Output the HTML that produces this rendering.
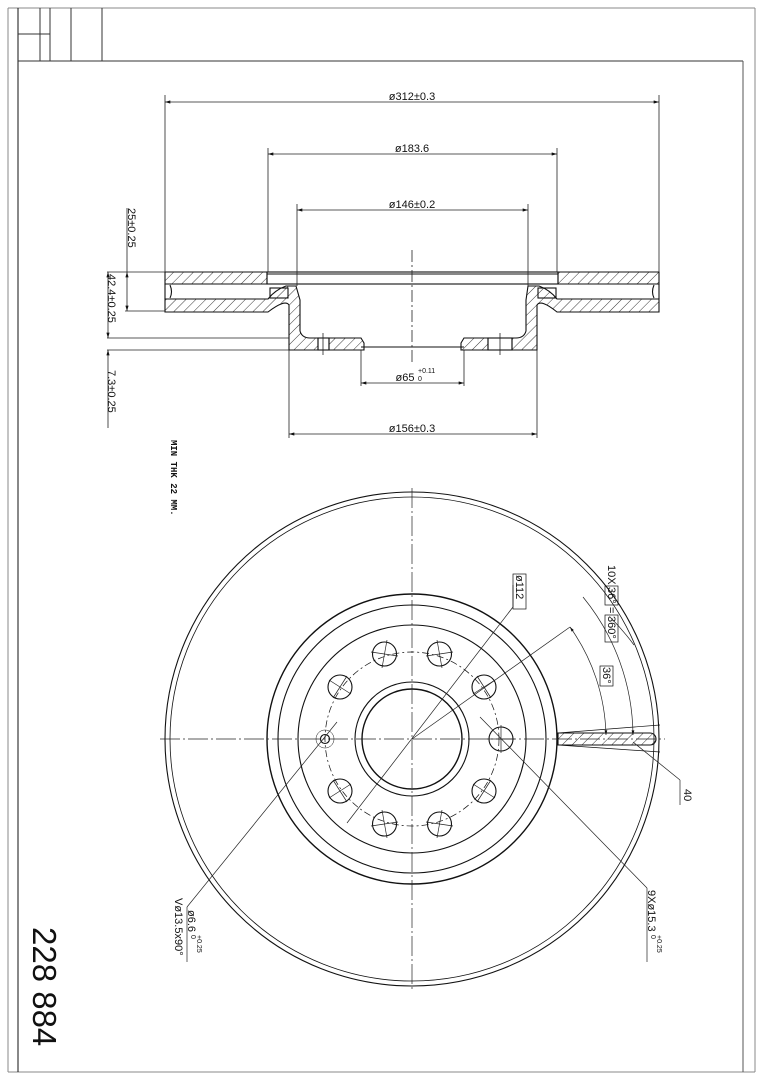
<!DOCTYPE html>
<html><head><meta charset="utf-8"><style>
html,body{margin:0;padding:0;background:#fff;}
svg{display:block;font-family:"Liberation Sans",sans-serif;}
</style></head><body>
<svg width="763" height="1080" viewBox="0 0 763 1080" xmlns="http://www.w3.org/2000/svg">
<defs>
<pattern id="h" patternUnits="userSpaceOnUse" width="7" height="7" patternTransform="rotate(45)">
<line x1="0" y1="0" x2="0" y2="7" stroke="#222" stroke-width="0.9"/>
</pattern>
<marker id="a" viewBox="0 0 10 6" refX="10" refY="3" markerWidth="8" markerHeight="4" orient="auto-start-reverse"><path d="M0,0 L10,3 L0,6z" fill="#111"/></marker>
</defs>
<g fill="none" stroke="#333" stroke-width="1">
<line x1="8" y1="8" x2="755" y2="8" stroke="#888"/>
<line x1="8" y1="8" x2="8" y2="1072" stroke="#888"/>
<line x1="755" y1="8" x2="755" y2="1072" stroke="#888"/>
<line x1="8" y1="1072" x2="755" y2="1072" stroke="#888"/>
<line x1="18" y1="8" x2="18" y2="1072" stroke="#111"/>
<line x1="18" y1="61" x2="743" y2="61"/>
<line x1="743" y1="61" x2="743" y2="1072" stroke="#555"/>
<line x1="40" y1="8" x2="40" y2="61"/>
<line x1="50" y1="8" x2="50" y2="61"/>
<line x1="71" y1="8" x2="71" y2="61"/>
<line x1="102" y1="8" x2="102" y2="61"/>
<line x1="18" y1="34" x2="50" y2="34"/>
</g>

<g stroke="#111" stroke-width="1.1">
<path d="M165,272 H267 V284 H165 Z" fill="url(#h)"/>
<path d="M558,272 H659 V284 H558 Z" fill="url(#h)"/>
<path d="M165,299 H268 Q275,290 286,286 L296,286 L300,300 V331 Q302,338 310,338 H318 V350 H289 V305 Q285,299 268,312 H165 Z" fill="url(#h)"/>
<path d="M659,299 H557 Q550,290 539,286 L528,286 L526,300 V331 Q524,338 516,338 H512 V350 H537 V305 Q541,299 557,312 H659 Z" fill="url(#h)"/>
<path d="M329,338 H361 L364,343 V350 H329 Z" fill="url(#h)"/>
<path d="M464,338 H488 V350 H461 V343 Z" fill="url(#h)"/>
<rect x="267" y="272" width="291" height="12" fill="none"/>
<line x1="267" y1="274" x2="558" y2="274"/>
<line x1="361" y1="347" x2="464" y2="347"/>
<line x1="165" y1="284" x2="165" y2="299"/>
<line x1="659" y1="284" x2="659" y2="299"/>
<path d="M170,285 Q173,292 170,298 M654,285 Q651,292 654,298" fill="none"/>
<rect x="270" y="288" width="18" height="10" fill="none"/>
<rect x="538" y="288" width="18" height="10" fill="none"/>
<rect x="318" y="338" width="11" height="12" fill="none"/>
<rect x="488" y="338" width="24" height="12" fill="none"/>
</g>
<g stroke="#222" stroke-width="0.8" fill="none">
<line x1="412" y1="250" x2="412" y2="365" stroke-dasharray="12,3,2,3"/>
<line x1="323" y1="333" x2="323" y2="355"/>
<line x1="500" y1="333" x2="500" y2="355"/>
<line x1="165" y1="95" x2="165" y2="272"/>
<line x1="659" y1="95" x2="659" y2="272"/>
<line x1="268" y1="148" x2="268" y2="272"/>
<line x1="557" y1="148" x2="557" y2="272"/>
<line x1="297" y1="204" x2="297" y2="286"/>
<line x1="528" y1="204" x2="528" y2="286"/>
<line x1="361" y1="350" x2="361" y2="386"/>
<line x1="464" y1="350" x2="464" y2="386"/>
<line x1="289" y1="350" x2="289" y2="438"/>
<line x1="537" y1="350" x2="537" y2="438"/>
<line x1="107" y1="272" x2="165" y2="272"/>
<line x1="125" y1="311" x2="165" y2="311"/>
<line x1="107" y1="338" x2="289" y2="338"/>
<line x1="107" y1="350" x2="289" y2="350"/>
<line x1="165" y1="102" x2="659" y2="102" marker-start="url(#a)" marker-end="url(#a)"/>
<line x1="268" y1="154" x2="557" y2="154" marker-start="url(#a)" marker-end="url(#a)"/>
<line x1="297" y1="210" x2="528" y2="210" marker-start="url(#a)" marker-end="url(#a)"/>
<line x1="361" y1="383" x2="464" y2="383" marker-start="url(#a)" marker-end="url(#a)"/>
<line x1="289" y1="434" x2="537" y2="434" marker-start="url(#a)" marker-end="url(#a)"/>
<line x1="127" y1="208" x2="127" y2="272"/>
<line x1="127" y1="272" x2="127" y2="311" marker-start="url(#a)" marker-end="url(#a)"/>
<line x1="108" y1="272" x2="108" y2="338" marker-start="url(#a)" marker-end="url(#a)"/>
<line x1="108" y1="350" x2="108" y2="428" marker-start="url(#a)"/>
</g>
<g font-size="11" fill="#111">
<text x="412" y="100" text-anchor="middle">ø312±0.3</text>
<text x="412" y="152" text-anchor="middle">ø183.6</text>
<text x="412" y="208" text-anchor="middle">ø146±0.2</text>
<text x="405" y="381" text-anchor="middle">ø65</text>
<text x="418" y="373" font-size="7">+0.11</text>
<text x="418" y="381" font-size="7">0</text>
<text x="412" y="432" text-anchor="middle">ø156±0.3</text>
<text transform="translate(128,208) rotate(90)">25±0.25</text>
<text transform="translate(108,274) rotate(90)">42.4±0.25</text>
<text transform="translate(108,370) rotate(90)">7.3±0.25</text>
<text transform="translate(171,440) rotate(90)" font-size="9" font-family="Liberation Mono" font-weight="bold">MIN THK 22 MM.</text>
<text transform="translate(33,927) rotate(90)" font-size="33">228 884</text>
</g>

<g stroke="#111" stroke-width="1.1" fill="none">
<circle cx="412" cy="739" r="247"/>
<circle cx="412" cy="739" r="242" stroke-width="0.8"/>
<circle cx="412" cy="739" r="145" stroke-width="1.4"/>
<circle cx="412" cy="739" r="134"/>
<circle cx="412" cy="739" r="114"/>
<circle cx="412" cy="739" r="57"/>
<circle cx="412" cy="739" r="50" stroke-width="1.4"/>
<circle cx="412" cy="739" r="87" stroke-dasharray="7,3,2,3" stroke-width="0.7"/>
<circle cx="501" cy="739" r="12"/>
<circle cx="484" cy="687" r="12"/>
<circle cx="439.5" cy="654" r="12"/>
<circle cx="384.5" cy="654" r="12"/>
<circle cx="340" cy="687" r="12"/>
<circle cx="340" cy="791" r="12"/>
<circle cx="384.5" cy="824" r="12"/>
<circle cx="439.5" cy="824" r="12"/>
<circle cx="484" cy="791" r="12"/>
<circle cx="325" cy="739" r="4.5"/>
<circle cx="325" cy="739" r="9" stroke-width="0.5"/>
<path d="M558,733 H650 A6,6 0 0 1 650,745 H558 Z" fill="url(#h)"/>
<line x1="558" y1="733" x2="660" y2="725" stroke-width="0.7"/>
<line x1="558" y1="745" x2="660" y2="752" stroke-width="0.7"/>
</g>
<g stroke="#222" stroke-width="0.7" fill="none">
<line x1="160" y1="739" x2="665" y2="739" stroke-dasharray="20,3,2,3"/>
<line x1="412" y1="488" x2="412" y2="992" stroke-dasharray="20,3,2,3"/>
<path d="M501,725 V753 M487,739 H515 M477,676 L491,698 M473,694 L495,680 M437,640 L442,668 M426,656 L453,652 M387,640 L382,668 M371,652 L398,656 M347,676 L333,698 M329,680 L351,694 M333,780 L347,802 M329,798 L351,784 M382,810 L387,838 M371,826 L398,822 M442,810 L437,838 M426,822 L453,826 M491,780 L477,802 M473,784 L495,798"/>
<line x1="513" y1="607" x2="347" y2="823"/>
<line x1="513" y1="607" x2="513" y2="585"/>
<line x1="480" y1="717" x2="647" y2="888"/>
<line x1="647" y1="888" x2="647" y2="962"/>
<line x1="337" y1="722" x2="187" y2="907"/>
<line x1="187" y1="907" x2="187" y2="962"/>
<line x1="412" y1="739" x2="570" y2="627"/>
<path d="M570,627 A194,194 0 0 1 606,735" marker-start="url(#a)" marker-end="url(#a)"/>
<path d="M583,597 A221,221 0 0 1 633,735" marker-end="url(#a)"/>
<path d="M610,617 A245,245 0 0 1 634,645" />
<line x1="633" y1="742" x2="680" y2="780"/>
<line x1="680" y1="780" x2="680" y2="805"/>
</g>
<g font-size="11" fill="#111">
<g transform="translate(516,575) rotate(90)"><rect x="-1" y="-10" width="35" height="13" fill="none" stroke="#111" stroke-width="0.7"/><text x="0" y="0">ø112</text></g>
<g transform="translate(608,565) rotate(90)"><text x="0" y="0">10X</text><rect x="21" y="-10" width="19" height="13" fill="none" stroke="#111" stroke-width="0.7"/><text x="22" y="0">36°</text><text x="42" y="0">=</text><rect x="50" y="-10" width="27" height="13" fill="none" stroke="#111" stroke-width="0.7"/><text x="51" y="0">360°</text></g>
<g transform="translate(603,667) rotate(90)"><rect x="-1" y="-10" width="20" height="13" fill="none" stroke="#111" stroke-width="0.7"/><text x="0" y="0">36°</text></g>
<text transform="translate(684,789) rotate(90)">40</text>
<text transform="translate(648,890) rotate(90)">9Xø15.3</text>
<text transform="translate(657,935) rotate(90)" font-size="7">+0.25</text>
<text transform="translate(651,935) rotate(90)" font-size="7">0</text>
<text transform="translate(188,910) rotate(90)">ø6.6</text>
<text transform="translate(197,935) rotate(90)" font-size="7">+0.25</text>
<text transform="translate(191,935) rotate(90)" font-size="7">0</text>
<text transform="translate(175,898) rotate(90)">Vø13.5x90°</text>
</g>
</svg>
</body></html>
